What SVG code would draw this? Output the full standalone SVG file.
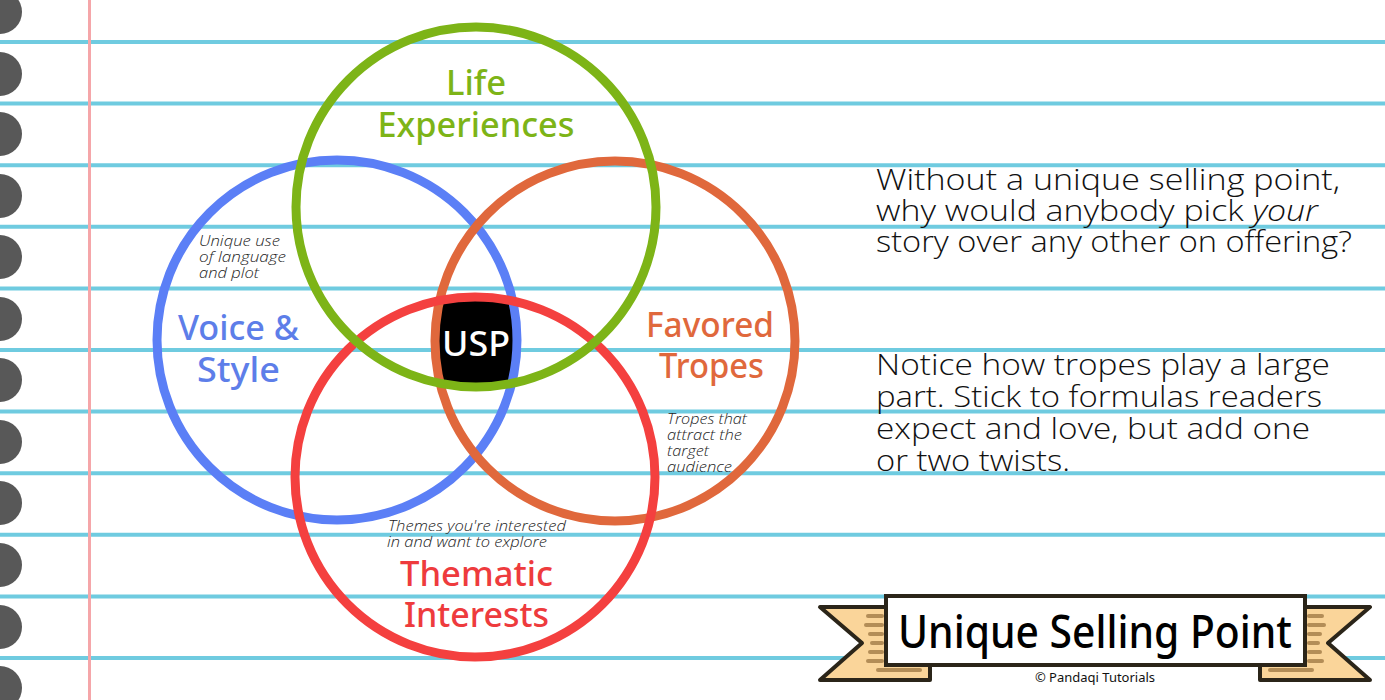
<svg xmlns="http://www.w3.org/2000/svg" width="1385" height="700" viewBox="0 0 1385 700">
<style>
.rule{stroke:#6fcbe0;stroke-width:4}
.hole{fill:#585858}
.ring{fill:none;stroke-width:9}
.lbl{font-family:"Noto Sans",sans-serif;font-size:35px;font-weight:500;text-anchor:middle}
.note{font-family:"Open Sans","Liberation Sans",sans-serif;font-style:italic;font-weight:300;font-size:14.5px;fill:#222}
.body{font-family:"Open Sans","Liberation Sans",sans-serif;font-size:29px;font-weight:300;fill:#111}
.tail{fill:#fad59a;stroke:#2b2519;stroke-width:4;stroke-linejoin:round}
.stripe{stroke:#b38d57;stroke-width:4;stroke-linecap:round}
</style>
<rect width="1385" height="700" fill="#ffffff"/>
<g id="paper">
<line class="rule" x1="0" y1="42" x2="1385" y2="42"/>
<line class="rule" x1="0" y1="103.6" x2="1385" y2="103.6"/>
<line class="rule" x1="0" y1="165.2" x2="1385" y2="165.2"/>
<line class="rule" x1="0" y1="226.8" x2="1385" y2="226.8"/>
<line class="rule" x1="0" y1="288.4" x2="1385" y2="288.4"/>
<line class="rule" x1="0" y1="350" x2="1385" y2="350"/>
<line class="rule" x1="0" y1="411.6" x2="1385" y2="411.6"/>
<line class="rule" x1="0" y1="473.2" x2="1385" y2="473.2"/>
<line class="rule" x1="0" y1="534.8" x2="1385" y2="534.8"/>
<line class="rule" x1="0" y1="596.4" x2="1385" y2="596.4"/>
<line class="rule" x1="0" y1="658" x2="1385" y2="658"/>
<line x1="89.5" y1="0" x2="89.5" y2="700" stroke="#f5a6a9" stroke-width="3"/>
<circle class="hole" cx="0" cy="12" r="22"/>
<circle class="hole" cx="0" cy="74" r="22"/>
<circle class="hole" cx="0" cy="134" r="22"/>
<circle class="hole" cx="0" cy="196" r="22"/>
<circle class="hole" cx="0" cy="257" r="22"/>
<circle class="hole" cx="0" cy="319" r="22"/>
<circle class="hole" cx="0" cy="380" r="22"/>
<circle class="hole" cx="0" cy="442" r="22"/>
<circle class="hole" cx="0" cy="503" r="22"/>
<circle class="hole" cx="0" cy="565" r="22"/>
<circle class="hole" cx="0" cy="627" r="22"/>
<circle class="hole" cx="0" cy="688" r="22"/>
</g>
<g id="usp">
<rect x="434" y="298" width="84" height="86" rx="16" fill="#000"/>
<text class="lbl" x="476" y="356" fill="#fff" font-size="37" textLength="68" lengthAdjust="spacingAndGlyphs">USP</text>
</g>
<g id="connectors">
<circle class="ring" cx="337" cy="340" r="180" stroke="#5b7ff6"/>
<circle class="ring" cx="615" cy="341" r="180" stroke="#e0683c"/>
<circle class="ring" cx="475" cy="477" r="180" stroke="#f4403f"/>
<circle class="ring" cx="476" cy="207" r="180" stroke="#7db417"/>
</g>
<g id="life">
<text class="lbl" x="476" y="95" fill="#7db417" textLength="60" lengthAdjust="spacingAndGlyphs">Life</text>
<text class="lbl" x="476" y="137" fill="#7db417" textLength="197" lengthAdjust="spacingAndGlyphs">Experiences</text>
</g>
<g id="voice">
<text class="note" x="199" y="246" textLength="81" lengthAdjust="spacingAndGlyphs">Unique use</text>
<text class="note" x="199" y="262" textLength="87" lengthAdjust="spacingAndGlyphs">of language</text>
<text class="note" x="199" y="278" textLength="60" lengthAdjust="spacingAndGlyphs">and plot</text>
<text class="lbl" x="238.5" y="340" fill="#5d7ee9" textLength="121" lengthAdjust="spacingAndGlyphs">Voice &amp;</text>
<text class="lbl" x="238.5" y="382" fill="#5d7ee9" textLength="83" lengthAdjust="spacingAndGlyphs">Style</text>
</g>
<g id="tropes">
<text class="lbl" x="710" y="337" fill="#e0683c" textLength="128" lengthAdjust="spacingAndGlyphs">Favored</text>
<text class="lbl" x="711.5" y="378" fill="#e0683c" textLength="105" lengthAdjust="spacingAndGlyphs">Tropes</text>
<text class="note" x="667" y="424" textLength="80" lengthAdjust="spacingAndGlyphs">Tropes that</text>
<text class="note" x="667" y="440" textLength="75" lengthAdjust="spacingAndGlyphs">attract the</text>
<text class="note" x="667" y="456" textLength="42" lengthAdjust="spacingAndGlyphs">target</text>
<text class="note" x="667" y="472" textLength="65" lengthAdjust="spacingAndGlyphs">audience</text>
</g>
<g id="thematic">
<text class="note" x="388" y="531" textLength="178" lengthAdjust="spacingAndGlyphs">Themes you're interested</text>
<text class="note" x="387" y="547" textLength="160" lengthAdjust="spacingAndGlyphs">in and want to explore</text>
<text class="lbl" x="476.5" y="586" fill="#ee3b3d" textLength="153" lengthAdjust="spacingAndGlyphs">Thematic</text>
<text class="lbl" x="476.5" y="627" fill="#ee3b3d" textLength="145" lengthAdjust="spacingAndGlyphs">Interests</text>
</g>
<g id="description">
<text class="body" x="876" y="190" textLength="464" lengthAdjust="spacingAndGlyphs">Without a unique selling point,</text>
<text class="body" x="876" y="221" textLength="442" lengthAdjust="spacingAndGlyphs">why would anybody pick <tspan font-style="italic">your</tspan></text>
<text class="body" x="876" y="252" textLength="476" lengthAdjust="spacingAndGlyphs">story over any other on offering?</text>
<text class="body" x="876" y="375" textLength="454" lengthAdjust="spacingAndGlyphs">Notice how tropes play a large</text>
<text class="body" x="876" y="407" textLength="446" lengthAdjust="spacingAndGlyphs">part. Stick to formulas readers</text>
<text class="body" x="876" y="439" textLength="434" lengthAdjust="spacingAndGlyphs">expect and love, but add one</text>
<text class="body" x="876" y="471" textLength="194" lengthAdjust="spacingAndGlyphs">or two twists.</text>
</g>
<g id="banner">
<polygon class="tail" points="820,607 930,607 930,680 820,680 862,643"/>
<polygon class="tail" points="1370,607 1260,607 1260,680 1370,680 1328,643"/>
<line class="stripe" x1="868" y1="616" x2="882" y2="616"/>
<line class="stripe" x1="866" y1="625" x2="882" y2="625"/>
<line class="stripe" x1="870" y1="634" x2="882" y2="634"/>
<line class="stripe" x1="872" y1="643" x2="882" y2="643"/>
<line class="stripe" x1="870" y1="652" x2="882" y2="652"/>
<line class="stripe" x1="868" y1="661" x2="882" y2="661"/>
<line class="stripe" x1="878" y1="670" x2="920" y2="670"/>
<line class="stripe" x1="1309" y1="616" x2="1322" y2="616"/>
<line class="stripe" x1="1309" y1="625" x2="1324" y2="625"/>
<line class="stripe" x1="1309" y1="634" x2="1320" y2="634"/>
<line class="stripe" x1="1309" y1="643" x2="1318" y2="643"/>
<line class="stripe" x1="1309" y1="652" x2="1320" y2="652"/>
<line class="stripe" x1="1309" y1="661" x2="1322" y2="661"/>
<line class="stripe" x1="1270" y1="670" x2="1312" y2="670"/>
<rect x="886" y="596" width="419" height="69" fill="#fff" stroke="#2b2519" stroke-width="4"/>
<text x="1095" y="648" font-family="'Noto Sans',sans-serif" font-size="46" font-weight="500" fill="#000" text-anchor="middle" textLength="394" lengthAdjust="spacingAndGlyphs">Unique Selling Point</text>
<text x="1095" y="682" font-family="'Noto Sans',sans-serif" font-size="13" fill="#111" text-anchor="middle">© Pandaqi Tutorials</text>
</g>
</svg>
